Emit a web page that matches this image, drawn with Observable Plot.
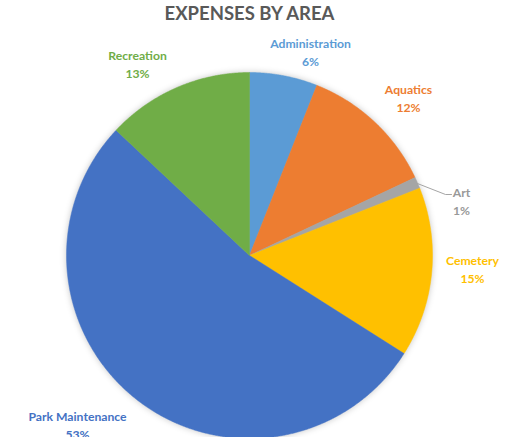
<!DOCTYPE html>
<html>
<head>
<meta charset="utf-8">
<script src="https://cdn.jsdelivr.net/npm/d3@7"></script>
<script src="https://cdn.jsdelivr.net/npm/@observablehq/plot@0.6"></script>
<style>
  html, body { margin: 0; padding: 0; background: #fff; }
  #chart svg { display: block; }
  .slices { filter: drop-shadow(0px 0px 3px rgba(0,0,0,0.22)); }
</style>
</head>
<body>
<div id="chart"></div>
<script>
const title = "EXPENSES BY AREA";
const categories = ["Administration", "Aquatics", "Art", "Cemetery", "Park Maintenance", "Recreation"];
const values = [6, 12, 1, 15, 53, 13];
const colors = ["#5B9BD5", "#ED7D31", "#A5A5A5", "#FFC000", "#4472C4", "#70AD47"];
const labelColors = ["#5B9BD5", "#ED7D31", "#999999", "#FFC000", "#4472C4", "#70AD47"];

// layout (pixels)
const W = 513, H = 437;
const cx = 249, cy = 255, R = 183;
const labelPos = {
  "Administration": [310, 51],
  "Aquatics": [408, 97],
  "Art": [461, 200],
  "Cemetery": [472, 268],
  "Park Maintenance": [77, 424],
  "Recreation": [137, 63]
};

const total = d3.sum(values);
const pie = d3.pie().sort(null).value(d => d.value);
const arcs = pie(categories.map((c, i) => ({category: c, value: values[i]})));

// polygon points for each slice (angles clockwise from 12 o'clock)
const pts = [];
for (const a of arcs) {
  const c = a.data.category;
  pts.push({category: c, x: 0, y: 0});
  const n = Math.max(4, Math.ceil((a.endAngle - a.startAngle) / 0.005));
  for (let k = 0; k <= n; k++) {
    const t = a.startAngle + (a.endAngle - a.startAngle) * k / n;
    pts.push({category: c, x: Math.sin(t), y: -Math.cos(t)});
  }
  pts.push({category: c, x: 0, y: 0});
}

// unit scales: center at (cx, cy), radius R
const xDomain = [-cx / R, (W - cx) / R];
const yDomain = [-cy / R, (H - cy) / R];

const labels = arcs.map((a, i) => ({
  category: a.data.category,
  text: `${a.data.category}\n${Math.round(a.data.value / total * 100)}%`,
  x: (labelPos[a.data.category][0] - cx) / R,
  y: (labelPos[a.data.category][1] - cy) / R,
  color: labelColors[i]
}));

// leader line for Art
const artArc = arcs[categories.indexOf("Art")];
const artMid = (artArc.startAngle + artArc.endAngle) / 2;
const leader = [
  {x: Math.sin(artMid) * 0.995, y: -Math.cos(artMid) * 0.995},
  {x: (445 - cx) / R, y: (194 - cy) / R},
  {x: (451 - cx) / R, y: (194 - cy) / R}
];

const chart = Plot.plot({
  width: W,
  height: H,
  margin: 0,
  x: {domain: xDomain, range: [0, W], axis: null},
  y: {domain: yDomain, range: [0, H], axis: null},
  color: {domain: categories, range: colors},
  style: {fontFamily: "Lato, 'Open Sans', sans-serif", background: "#fff"},
  marks: [
    Plot.line(pts, {x: "x", y: "y", z: "category", fill: "category", stroke: "category", strokeWidth: 0.5, strokeLinejoin: "round", curve: "linear", className: "slices"}),
    Plot.line(leader, {x: "x", y: "y", stroke: "#A5A5A5", strokeWidth: 1}),
    Plot.text(labels, {x: "x", y: "y", text: "text", fill: d => d.color, fontSize: 12.2, fontWeight: "bold", lineHeight: 1.4, lineAnchor: "middle", textAnchor: "middle"}),
    Plot.text([title], {x: 0, y: (14 - cy) / R, text: d => d, frameAnchor: "top", fill: "#595959", fontSize: 18.5, fontWeight: "bold", textAnchor: "middle", lineAnchor: "middle"})
  ]
});
document.getElementById("chart").appendChild(chart);
</script>
</body>
</html>
